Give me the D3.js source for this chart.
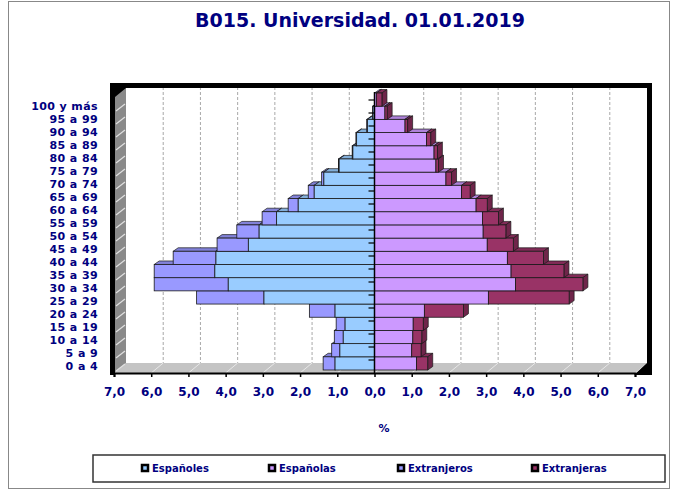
<!DOCTYPE html>
<html lang="es">
<head>
<meta charset="UTF-8">
<title>B015. Universidad. 01.01.2019</title>
<script src="https://d3js.org/d3.v7.min.js"></script>
<style>
  html, body { margin: 0; padding: 0; background: #fff; }
  svg text { font-family: "DejaVu Sans", Verdana, sans-serif; font-weight: bold; fill: #000080; }
</style>
</head>
<body>
<svg id="chart" width="678" height="491"></svg>
<script>
// age groups, bottom to top
const ages = ["0 a 4", "5 a 9", "10 a 14", "15 a 19", "20 a 24", "25 a 29", "30 a 34",
  "35 a 39", "40 a 44", "45 a 49", "50 a 54", "55 a 59", "60 a 64", "65 a 69",
  "70 a 74", "75 a 79", "80 a 84", "85 a 89", "90 a 94", "95 a 99", "100 y más"];

// % of total population
const espanoles   = [1.06, 0.93, 0.84, 0.79, 1.06, 2.97, 3.93, 4.29, 4.26, 3.39, 3.10, 2.63, 2.05, 1.62, 1.36, 0.95, 0.58, 0.48, 0.19, 0.04, 0.00];
const extranjeros = [0.32, 0.22, 0.24, 0.24, 0.69, 1.81, 1.99, 1.63, 1.15, 0.84, 0.60, 0.39, 0.27, 0.16, 0.06, 0.02, 0.02, 0.02, 0.02, 0.01, 0.00];
const espanolas   = [1.13, 1.00, 1.03, 1.04, 1.34, 3.06, 3.79, 3.67, 3.57, 3.03, 2.92, 2.90, 2.73, 2.34, 1.92, 1.65, 1.60, 1.40, 0.82, 0.28, 0.05];
const extranjeras = [0.30, 0.25, 0.24, 0.27, 1.05, 2.17, 1.81, 1.42, 0.97, 0.70, 0.61, 0.43, 0.30, 0.23, 0.15, 0.07, 0.09, 0.11, 0.07, 0.06, 0.15];

const xTicks = [-7, -6, -5, -4, -3, -2, -1, 0, 1, 2, 3, 4, 5, 6, 7];
const seriesNames = ["Españoles", "Españolas", "Extranjeros", "Extranjeras"];
const seriesColors = ["#99ccff", "#cc99ff", "#9999ff", "#993366"];

const svg = d3.select("#chart");

// 3D depth of the plot box and of the bars
const depth = { dx: 12, dy: 10 };
const bar3d = { dx: 5, dy: 3.5 };

const x = d3.scaleLinear().domain([-7, 7]).range([114, 635]);
const yLab = d3.scaleBand().domain(ages).range([373, 100]);
const yBar = d3.scaleBand().domain(ages).range([370, 93]);

const floorY = 373;
const topY = 97;

// outer frame
svg.append("rect")
  .attr("x", 8.5).attr("y", 1.5).attr("width", 661).attr("height", 487)
  .attr("fill", "none").attr("stroke", "#888").attr("stroke-width", 1);

// title
svg.append("text")
  .attr("x", 360).attr("y", 27)
  .attr("text-anchor", "middle")
  .style("font-size", "19px")
  .text("B015. Universidad. 01.01.2019");

// back wall
svg.append("rect")
  .attr("x", x(-7) + depth.dx).attr("y", topY - depth.dy)
  .attr("width", x(7) - x(-7)).attr("height", floorY - topY)
  .attr("fill", "#fff");

// gridlines on the back wall
svg.append("g").selectAll("line")
  .data(xTicks.filter((d) => d !== 0 && Math.abs(d) !== 7))
  .enter().append("line")
  .attr("x1", (d) => x(d) + depth.dx).attr("x2", (d) => x(d) + depth.dx)
  .attr("y1", topY - depth.dy).attr("y2", floorY - depth.dy)
  .attr("stroke", "#a8a8a8").attr("stroke-dasharray", "3,2");

// floor
svg.append("path")
  .attr("d", `M${x(-7)},${floorY} L${x(7)},${floorY} L${x(7) + depth.dx},${floorY - depth.dy} L${x(-7) + depth.dx},${floorY - depth.dy} Z`)
  .attr("fill", "#c4c4c4");
svg.append("g").selectAll("line")
  .data(xTicks.filter((d) => Math.abs(d) !== 7))
  .enter().append("line")
  .attr("x1", (d) => x(d)).attr("y1", floorY)
  .attr("x2", (d) => x(d) + depth.dx).attr("y2", floorY - depth.dy)
  .attr("stroke", "#e8e8e8");

// left side wall
svg.append("path")
  .attr("d", `M${x(-7)},${topY} L${x(-7) + depth.dx},${topY - depth.dy} L${x(-7) + depth.dx},${floorY - depth.dy} L${x(-7)},${floorY} Z`)
  .attr("fill", "#8a8a8a");
svg.append("g").selectAll("line")
  .data(ages)
  .enter().append("line")
  .attr("x1", x(-7) + 2).attr("y1", (d) => yLab(d) + yLab.bandwidth() - 2)
  .attr("x2", x(-7) + depth.dx - 1).attr("y2", (d) => yLab(d) + yLab.bandwidth() - depth.dy + 1)
  .attr("stroke", "#e0e0e0").attr("stroke-width", 1.2);

// black frame of the 3D box
svg.append("path")
  .attr("d", `M110,83 L652,83 L652,375 L634,375 L${x(7) + depth.dx},${floorY - depth.dy} L${x(7) + depth.dx},88 L${x(-7) + depth.dx},88 L115,${topY} L115,375 L110,375 Z`)
  .attr("fill", "#000");

// bars
function box(g, x0, x1, y0, y1, color) {
  const c = d3.color(color);
  const { dx, dy } = bar3d;
  g.append("path") // top face
    .attr("d", `M${x0},${y0} L${x1},${y0} L${x1 + dx},${y0 - dy} L${x0 + dx},${y0 - dy} Z`)
    .attr("fill", c.darker(0.45)).attr("stroke", "#1a1a1a").attr("stroke-width", 0.7);
  g.append("path") // side face
    .attr("d", `M${x1},${y0} L${x1 + dx},${y0 - dy} L${x1 + dx},${y1 - dy} L${x1},${y1} Z`)
    .attr("fill", c.darker(0.9)).attr("stroke", "#1a1a1a").attr("stroke-width", 0.7);
  g.append("rect") // front face
    .attr("x", x0).attr("y", y0)
    .attr("width", Math.max(0, x1 - x0)).attr("height", y1 - y0)
    .attr("fill", c).attr("stroke", "#1a1a1a").attr("stroke-width", 0.8);
}

const bars = svg.append("g");
ages.forEach((age, i) => {
  const y0 = yBar(age);
  const y1 = y0 + yBar.bandwidth();
  const g = bars.append("g");
  const a = espanoles[i], b = extranjeros[i], c = espanolas[i], d = extranjeras[i];
  if (b > 0) box(g, x(-(a + b)), x(-a), y0, y1, seriesColors[2]);
  if (a > 0) box(g, x(-a), x(0), y0, y1, seriesColors[0]);
  if (c > 0) box(g, x(0), x(c), y0, y1, seriesColors[1]);
  if (d > 0) box(g, x(c), x(c + d), y0, y1, seriesColors[3]);
});

// vertical (category) axis at zero
svg.append("line")
  .attr("x1", x(0)).attr("x2", x(0))
  .attr("y1", topY - 5).attr("y2", floorY)
  .attr("stroke", "#000").attr("stroke-width", 1.5);
svg.append("g").selectAll("line")
  .data(ages)
  .enter().append("line")
  .attr("x1", x(0) - 6).attr("x2", x(0))
  .attr("y1", (d) => yLab(d)).attr("y2", (d) => yLab(d))
  .attr("stroke", "#000").attr("stroke-width", 1.2);

// category labels
svg.append("g").selectAll("text")
  .data(ages)
  .enter().append("text")
  .attr("x", 98)
  .attr("y", (d) => yLab(d) + yLab.bandwidth() / 2)
  .attr("dy", "0.36em")
  .attr("text-anchor", "end")
  .style("font-size", "11px")
  .style("letter-spacing", "0.4px")
  .text((d) => d);

// value axis along the front edge of the floor
const xAxis = d3.axisBottom(x)
  .tickValues(xTicks)
  .tickSize(4)
  .tickPadding(10)
  .tickFormat((d) => Math.abs(d).toFixed(1).replace(".", ","));
const gx = svg.append("g")
  .attr("transform", `translate(0,${floorY})`)
  .call(xAxis);
gx.select(".domain").attr("stroke", "#000").attr("stroke-width", 2);
gx.selectAll(".tick line").attr("stroke", "#000").attr("stroke-width", 1.5);
gx.selectAll(".tick text")
  .style("font-size", "12px")
  .style("font-family", '"DejaVu Sans", Verdana, sans-serif')
  .attr("fill", "#000080");

// axis title
svg.append("text")
  .attr("x", 384).attr("y", 432)
  .attr("text-anchor", "middle")
  .style("font-size", "11px")
  .text("%");

// legend
svg.append("rect")
  .attr("x", 93).attr("y", 455).attr("width", 572).attr("height", 27)
  .attr("fill", "#fff").attr("stroke", "#333").attr("stroke-width", 1.5);
const legendX = [142, 269, 398, 532];
const legend = svg.append("g").selectAll("g")
  .data(seriesNames)
  .enter().append("g")
  .attr("transform", (d, i) => `translate(${legendX[i]},468)`);
legend.append("rect")
  .attr("x", 0).attr("y", -3).attr("width", 6).attr("height", 6)
  .attr("fill", (d, i) => seriesColors[i])
  .attr("stroke", "#000").attr("stroke-width", 2.5);
legend.append("text")
  .attr("x", 10).attr("y", 4)
  .style("font-size", "10px")
  .text((d) => d);
</script>
</body>
</html>
